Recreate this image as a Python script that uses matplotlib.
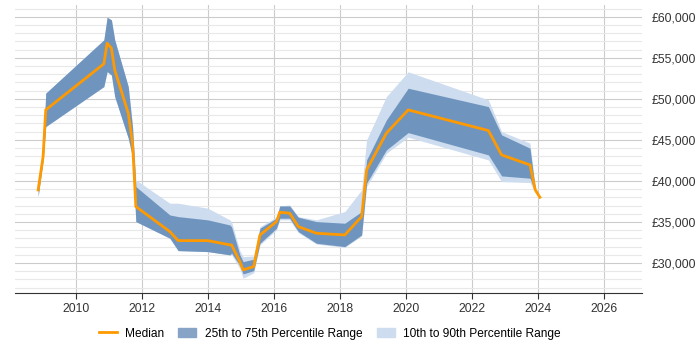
import matplotlib
matplotlib.use('Agg')
import matplotlib.pyplot as plt
from matplotlib.ticker import MultipleLocator, FuncFormatter
from matplotlib.lines import Line2D
from matplotlib.patches import Patch

plt.rcParams['font.family'] = ['Liberation Sans', 'DejaVu Sans']

# Datos (año decimal, salario en GBP)
years = [2008.86, 2009.01, 2009.09, 2010.85, 2010.95, 2011.08, 2011.18, 2011.59,
         2011.72, 2011.82, 2012.85, 2013.10, 2014.00, 2014.67, 2014.72, 2014.97,
         2015.07, 2015.39, 2015.58, 2016.08, 2016.18, 2016.48, 2016.74, 2017.29,
         2018.15, 2018.66, 2018.81, 2019.41, 2020.07, 2022.50, 2022.90, 2023.76,
         2023.92, 2024.06]
p10 = [38100, 42500, 46620, 51500, 53330, 52900, 50280, 45200,
       42900, 35040, 33010, 31500, 31380, 30980, 31000, 29300,
       28130, 28800, 32200, 34020, 35250, 35250, 33700, 32300,
       31900, 33300, 39300, 43380, 45330, 42560, 39920, 39800,
       38600, 38000]
p25 = [38100, 42500, 46620, 51500, 53330, 52900, 50280, 45200,
       42900, 35040, 33010, 31500, 31380, 30980, 31200, 29700,
       28660, 29060, 32400, 34230, 35450, 35450, 33820, 32400,
       31990, 33410, 39720, 43780, 45890, 43170, 40610, 40330,
       38700, 38000]
median = [38900, 42960, 48660, 54270, 56790, 56180, 53540, 48260,
          44600, 36870, 33820, 32720, 32720, 32200, 32200, 30160,
          29150, 29560, 33410, 35040, 36180, 36060, 34430, 33620,
          33410, 35650, 41340, 45820, 48660, 46140, 43170, 41950,
          38900, 38000]
p75 = [39300, 43500, 50700, 57200, 59960, 59630, 57200, 51500,
       46500, 39310, 35850, 35650, 35250, 34630, 34400, 31000,
       30160, 30450, 34230, 35450, 36950, 36950, 35570, 35040,
       34840, 36260, 42560, 47440, 51300, 49060, 45610, 43990,
       39000, 38000]
p90 = [39300, 43500, 50700, 57200, 59960, 59630, 57200, 51500,
       46800, 40120, 37280, 37280, 36670, 35250, 35000, 31500,
       30770, 30850, 34430, 35600, 36950, 37070, 35650, 35250,
       36260, 38900, 45000, 50280, 53300, 49880, 46010, 44600,
       39200, 38000]

year_ticks = [2010, 2012, 2014, 2016, 2018, 2020, 2022, 2024, 2026]

c_median = '#ff9900'
c_iqr = '#6f95bf'
c_outer = '#cddcee'

fig = plt.figure(figsize=(7, 3.5), dpi=100)
ax = fig.add_axes([0.021, 0.163, 0.896, 0.823])

ax.fill_between(years, p10, p90, color=c_outer, linewidth=0)
ax.fill_between(years, p25, p75, color=c_iqr, linewidth=0)
ax.plot(years, median, color=c_median, linewidth=2)

ax.set_xlim(2008.15, 2027.15)
ax.set_ylim(26340, 61460)
ax.set_xticks(year_ticks)
ax.yaxis.set_major_locator(MultipleLocator(5000))
ax.yaxis.set_minor_locator(MultipleLocator(1000))
ax.yaxis.set_major_formatter(FuncFormatter(lambda v, p: '£{:,.0f}'.format(v)))
ax.yaxis.tick_right()

ax.grid(which='major', axis='both', color='#cccccc', linewidth=0.8)
ax.grid(which='minor', axis='y', color='#e8e8e8', linewidth=0.8)
ax.set_axisbelow(True)

for s in ['top', 'left', 'right']:
    ax.spines[s].set_visible(False)
ax.spines['bottom'].set_color('#333333')

ax.tick_params(axis='y', which='both', length=0, pad=7, labelsize=8.7, colors='#333333')
ax.tick_params(axis='x', length=4, color='#333333', labelsize=8.7, labelcolor='#333333')

handles = [Line2D([0], [0], color=c_median, linewidth=2),
           Patch(color='#87a4c6'),
           Patch(color=c_outer)]
labels = ['Median', '25th to 75th Percentile Range', '10th to 90th Percentile Range']
fig.legend(handles, labels, loc='center', bbox_to_anchor=(0.471, 0.047), ncol=3,
           frameon=False, fontsize=8.6, handlelength=1.5, columnspacing=1.2,
           handletextpad=0.7)

fig.savefig('out.png', dpi=100)
